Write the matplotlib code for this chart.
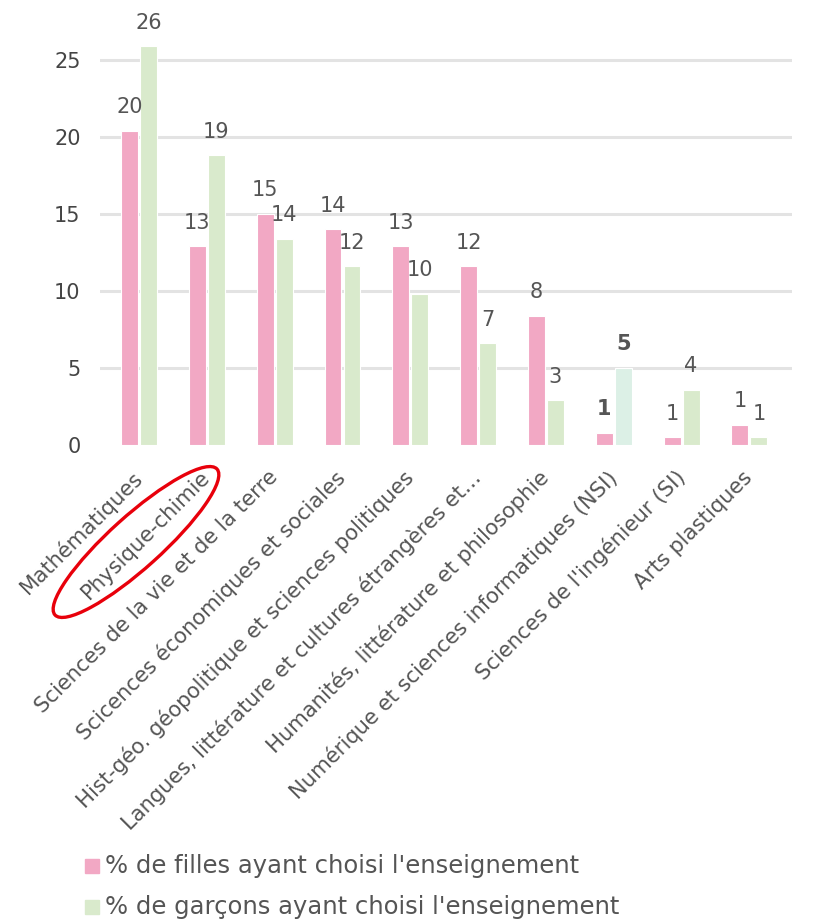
import numpy as np
import matplotlib
matplotlib.use('Agg')
import matplotlib.pyplot as plt
from matplotlib.patches import Ellipse, Rectangle

# data (% of pupils who chose the subject)
categories = ["Mathématiques", "Physique-chimie", "Sciences de la vie et de la terre",
              "Scicences économiques et sociales", "Hist-géo. géopolitique et sciences politiques",
              "Langues, littérature et cultures étrangères et…", "Humanités, littérature et philosophie",
              "Numérique et sciences informatiques (NSI)", "Sciences de l'ingénieur (SI)",
              "Arts plastiques"]
filles = [20.4, 12.9, 15.0, 14.0, 12.9, 11.6, 8.4, 0.8, 0.5, 1.3]
garcons = [25.9, 18.8, 13.4, 11.6, 9.8, 6.6, 2.9, 5.0, 3.6, 0.5]
filles_lbl = [20, 13, 15, 14, 13, 12, 8, 1, 1, 1]
garcons_lbl = [26, 19, 14, 12, 10, 7, 3, 5, 4, 1]
yticks = [0, 5, 10, 15, 20, 25]
series_names = ["% de filles ayant choisi l'enseignement",
                "% de garçons ayant choisi l'enseignement"]

pink = '#f2a8c4'
green = '#d9eacc'
green_hl = '#dcf0e6'   # NSI bar is drawn a little lighter

fig = plt.figure(figsize=(8.2, 9.21), dpi=100)
ax = fig.add_axes([0.122, 0.5168, 0.844, 0.4682])

x = np.arange(len(categories))
w = 0.25
gcols = [green] * len(categories)
gcols[7] = green_hl
ax.bar(x - 0.14, filles, w, color=pink, edgecolor='white', linewidth=0.8, zorder=2)
ax.bar(x + 0.14, garcons, w, color=gcols, edgecolor='white', linewidth=0.8, zorder=2)

# value labels above bars, NSI ones are bold
for i in range(len(categories)):
    fw = 'bold' if i == 7 else 'normal'
    ax.annotate(str(filles_lbl[i]), (x[i] - 0.14, filles[i]), xytext=(0, 17),
                textcoords='offset points', ha='center', va='center',
                fontsize=15, color='#555555', fontweight=fw)
    ax.annotate(str(garcons_lbl[i]), (x[i] + 0.14, garcons[i]), xytext=(0, 17),
                textcoords='offset points', ha='center', va='center',
                fontsize=15, color='#555555', fontweight=fw)

ax.set_xlim(-0.575, 9.63)
ax.set_ylim(0, 28)
ax.set_yticks(yticks)
ax.set_yticklabels([str(v) for v in yticks], fontsize=15, color='#444444')
for v in yticks[1:]:
    ax.axhline(v, color='#e3e3e3', linewidth=2.2, zorder=1)

ax.set_xticks(x)
ax.set_xticklabels(categories, rotation=45, ha='right', va='center',
                   rotation_mode='anchor', fontsize=15.2, color='#555555')
ax.tick_params(axis='x', length=0, pad=21)
ax.tick_params(axis='y', length=0, pad=14)
for s in ax.spines.values():
    s.set_visible(False)

# red circle around Physique-chimie
ell = Ellipse((1.36, 3.79), 2.18, 0.52, angle=42, fill=False, edgecolor='#e8000b',
              linewidth=2.4, transform=fig.dpi_scale_trans)
fig.add_artist(ell)

# legend at the bottom, drawn by hand: small squares + text
W, H = 820, 921
for name, col, ypx in zip(series_names, [pink, green], [866, 907]):
    fig.add_artist(Rectangle((85 / W, (H - ypx - 7) / H), 14 / W, 14 / H,
                             color=col, transform=fig.transFigure))
    fig.text(105 / W, (H - ypx) / H, name, fontsize=17.5, color='#555555',
             ha='left', va='center')

fig.savefig('out.png', dpi=100)
